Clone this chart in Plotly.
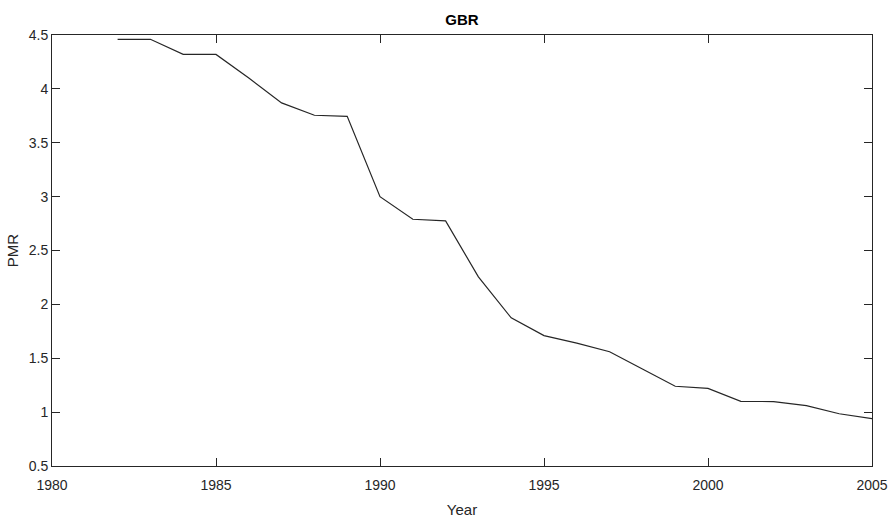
import plotly.graph_objects as go

years = list(range(1982, 2006))
pmr = [4.46, 4.46, 4.32, 4.32, 4.10, 3.87, 3.755, 3.745, 3.00, 2.79, 2.775, 2.255,
       1.875, 1.71, 1.64, 1.56, 1.40, 1.24, 1.22, 1.10, 1.098, 1.06, 0.985, 0.94]

x_ticks = [1980, 1985, 1990, 1995, 2000, 2005]
y_ticks = [0.5, 1, 1.5, 2, 2.5, 3, 3.5, 4, 4.5]
y_tick_labels = ["0.5", "1", "1.5", "2", "2.5", "3", "3.5", "4", "4.5"]

FONT = "Liberation Sans, Arial"
axis_common = dict(showgrid=False, zeroline=False, showline=True, linecolor="#262626",
                   linewidth=1, mirror="allticks", ticks="inside", ticklen=8, automargin=False,
                   tickcolor="#262626", tickfont=dict(family=FONT, size=14, color="#262626"))

fig = go.Figure()
fig.add_trace(go.Scatter(x=years, y=pmr, mode="lines",
                         line=dict(color="#262626", width=1.2), showlegend=False))

fig.update_xaxes(range=[1980, 2005], tickvals=x_ticks, ticklabelstandoff=6,
                 title=dict(text="Year", font=dict(family=FONT, size=15, color="#262626"), standoff=12),
                 **axis_common)
fig.update_yaxes(range=[0.5, 4.5], tickvals=y_ticks, ticktext=y_tick_labels,
                 title=dict(text="PMR", font=dict(family=FONT, size=15, color="#262626"), standoff=6),
                 **axis_common)

fig.update_layout(
    width=891, height=526,
    margin=dict(l=52, r=19, t=35, b=60, autoexpand=False),
    paper_bgcolor="white", plot_bgcolor="white",
    title=dict(text="<b>GBR</b>", x=0.5, xref="paper", xanchor="center", y=1 - 20/526, yanchor="middle",
               font=dict(family=FONT, size=15, color="black")),
)

fig.write_html("out.html")
